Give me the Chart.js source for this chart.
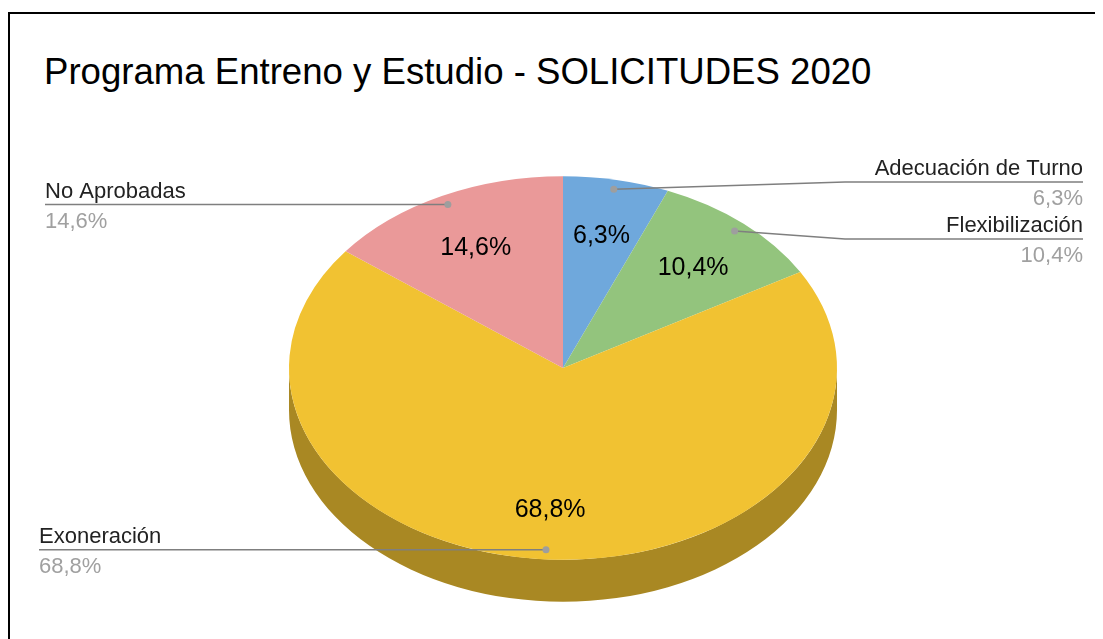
<!DOCTYPE html>
<html>
<head>
<meta charset="utf-8">
<script src="https://cdn.jsdelivr.net/npm/chart.js@4"></script>
<style>
  html, body { margin: 0; padding: 0; background: #fff; }
  body { width: 1103px; height: 639px; position: relative; overflow: hidden; }
  #frame { position: absolute; left: 8px; top: 12px; width: 1085px; height: 700px;
           border-left: 2px solid #000; border-top: 2px solid #000; }
  #title { position: absolute; left: 44px; top: 53px; font: 36.6px "Liberation Sans", Arial, sans-serif;
           line-height: 37px; color: #000; white-space: nowrap; }
  #pie { position: absolute; left: 0; top: 0; }
</style>
</head>
<body>
<div id="frame"></div>
<div id="title">Programa Entreno y Estudio - SOLICITUDES 2020</div>
<canvas id="pie" width="1103" height="639"></canvas>
<script>
// data: solicitudes por tipo (3/48, 5/48, 33/48, 7/48 -> 6,3% 10,4% 68,8% 14,6%)
const categories = ['Adecuación de Turno', 'Flexibilización', 'Exoneración', 'No Aprobadas'];
const solicitudes = [3, 5, 33, 7];
const sliceColors = ['#6fa8dc', '#93c47d', '#f1c232', '#ea9999'];

// layout of the tilted pie
const PIE_Y = 368;      // screen y of the pie centre
const TILT = 0.7;       // vertical squash
const DEPTH = 42;       // thickness of the side wall
const calloutY = [182, 239, null, null]; // right side labels are spread apart

const total = solicitudes.reduce((a, b) => a + b, 0);
const pct = v => (v / total * 100).toFixed(1).replace('.', ',') + '%';

function darken(hex, f) {
    const n = parseInt(hex.slice(1), 16);
    const r = Math.round((n >> 16) * f), g = Math.round(((n >> 8) & 255) * f), b = Math.round((n & 255) * f);
    return 'rgb(' + r + ',' + g + ',' + b + ')';
}

const tiltPlugin = {
    id: 'tilt',
    beforeDatasetsDraw(chart) {
        const ctx = chart.ctx;
        const arcs = chart.getDatasetMeta(0).data;
        const cx = arcs[0].x, cy = arcs[0].y;
        ctx.save();
        ctx.translate(cx, PIE_Y);
        ctx.scale(1, TILT);
        ctx.translate(-cx, -cy);
        // side wall, only the front half is visible
        const d = DEPTH / TILT;
        arcs.forEach((arc, i) => {
            const a0 = Math.max(arc.startAngle, 0);
            const a1 = Math.min(arc.endAngle, Math.PI);
            if (a1 <= a0) return;
            ctx.beginPath();
            ctx.arc(cx, cy, arc.outerRadius, a0, a1);
            ctx.arc(cx, cy + d, arc.outerRadius, a1, a0, true);
            ctx.closePath();
            ctx.fillStyle = darken(sliceColors[i], 0.7);
            ctx.fill();
        });
    },
    afterDatasetsDraw(chart) {
        const ctx = chart.ctx;
        ctx.restore();
        const arcs = chart.getDatasetMeta(0).data;
        const cx = arcs[0].x;
        const at = (a, r) => [cx + Math.cos(a) * r, PIE_Y + Math.sin(a) * r * TILT];

        arcs.forEach((arc, i) => {
            const mid = (arc.startAngle + arc.endAngle) / 2;
            const r = arc.outerRadius;

            // percentage inside the slice
            const [lx, ly] = at(mid, r * 0.72);
            ctx.font = '25px "Liberation Sans", Arial, sans-serif';
            ctx.fillStyle = '#000';
            ctx.textAlign = 'center';
            ctx.textBaseline = 'middle';
            ctx.fillText(pct(solicitudes[i]), lx, ly + 4);

            // callout
            const [dx, dy] = at(mid, r * 0.95);
            const right = Math.cos(mid) > 0;
            const y = calloutY[i] != null ? calloutY[i] : dy;
            ctx.strokeStyle = '#7f7f7f';
            ctx.lineWidth = 1.5;
            ctx.beginPath();
            ctx.moveTo(dx, dy);
            let tx;
            if (right) {
                ctx.lineTo(845, y);
                ctx.lineTo(1083, y);
                tx = 1083;
            } else {
                tx = i === 2 ? 39 : 45;
                ctx.lineTo(tx, y);
            }
            ctx.stroke();
            ctx.beginPath();
            ctx.arc(dx, dy, 3.5, 0, Math.PI * 2);
            ctx.fillStyle = '#9e9e9e';
            ctx.fill();

            ctx.font = '22px "Liberation Sans", Arial, sans-serif';
            ctx.textAlign = right ? 'right' : 'left';
            ctx.textBaseline = 'alphabetic';
            ctx.fillStyle = '#222';
            ctx.fillText(categories[i], tx, y - 7);
            ctx.fillStyle = '#a0a0a0';
            ctx.fillText(pct(solicitudes[i]), tx, y + 23);
        });
    }
};

new Chart(document.getElementById('pie'), {
    type: 'pie',
    data: {
        labels: categories,
        datasets: [{
            data: solicitudes,
            backgroundColor: sliceColors,
            borderWidth: 0,
            hoverOffset: 0
        }]
    },
    options: {
        responsive: false,
        animation: false,
        layout: { padding: { left: 23, right: 0, top: 91, bottom: 0 } },
        plugins: {
            legend: { display: false },
            tooltip: { enabled: false }
        }
    },
    plugins: [tiltPlugin]
});
</script>
</body>
</html>
